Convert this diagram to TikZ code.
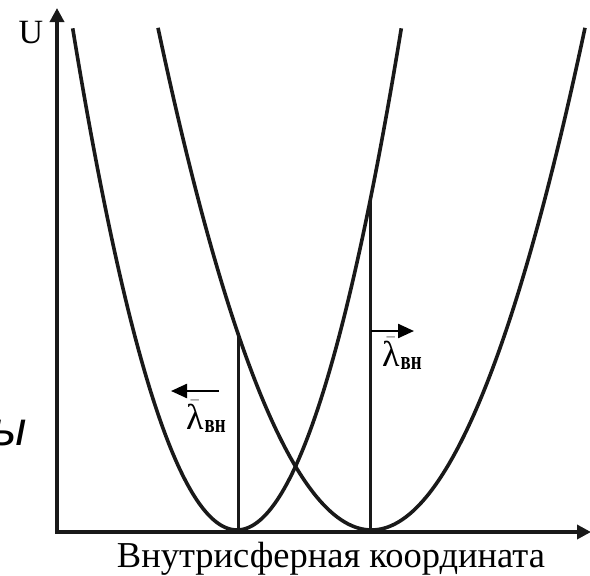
\documentclass[tikz,border=0pt]{standalone}
\usepackage{fontspec}
\setmainfont{Liberation Serif}
\newfontfamily\cutsans{Liberation Sans}
\usetikzlibrary{arrows.meta}
\newcommand{\lamvn}{$\bar{\hbox{λ}}$\kern1pt\raisebox{-3pt}{\resizebox{21pt}{12pt}{\bfseries вн}}}
\begin{document}
\begin{tikzpicture}[x=1pt,y=-1pt,
  curve/.style={line width=3.6pt,black!90},
  axisline/.style={line width=3.4pt,black!90,-{Triangle[length=14pt,width=14pt]}},
  level/.style={line width=3pt,black!90},
  dirarrow/.style={line width=2.4pt,-{Triangle[length=16pt,width=14pt]}},
  lab/.style={inner sep=0pt,font=\fontsize{36}{36}\selectfont}]
\useasboundingbox (0,0) rectangle (590,576);
% axes
\coordinate (O) at (57,532);
\coordinate (Ytop) at (57,8);
\coordinate (Xend) at (591,532);
\draw[axisline] (O) -- (Ytop);
\draw[axisline] ([xshift=-1.7pt]O) -- (Xend);
% parabolas
\def\kA{0.01859}
\def\kB{0.01102}
\draw[curve] plot[domain=72.7:401.3,samples=120,smooth] (\x,{530-\kA*(\x-237)*(\x-237)});
\draw[curve] plot[domain=158:585,samples=120,smooth] (\x,{530-\kB*(\x-371.5)*(\x-371.5)});
% vertical lines
\coordinate (Lb) at (238,532);
\coordinate (Lt) at (238,{530-\kB*(238-371.5)*(238-371.5)});
\coordinate (Rb) at (370,532);
\coordinate (Rt) at (370,{530-\kA*(370-237)*(370-237)});
\draw[level] (Lb) -- (Lt);
\draw[level] (Rb) -- (Rt);
% direction arrows
\coordinate (la1) at (219,391);
\coordinate (la2) at (171,391);
\coordinate (ra1) at (371,331);
\coordinate (ra2) at (414,331);
\draw[dirarrow] (la1) -- (la2);
\draw[dirarrow] (ra1) -- (ra2);
% labels
\node[lab,anchor=base west] (lamL) at (186,429) {\lamvn};
\node[lab,anchor=base west] (lamR) at (382,366) {\lamvn};
\node[inner sep=0pt,anchor=base,font=\fontsize{34}{34}\selectfont] (U) at (31,43) {U};
\node[inner sep=0pt,anchor=base] (xlab) at (331,567) {\resizebox{428pt}{!}{\fontsize{33}{33}\selectfont Внутрисферная координата}};
\node[inner sep=0pt,anchor=base west,font=\cutsans\itshape\fontsize{48}{48}\selectfont] (cut) at (-9,445) {ы};
\end{tikzpicture}
\end{document}
